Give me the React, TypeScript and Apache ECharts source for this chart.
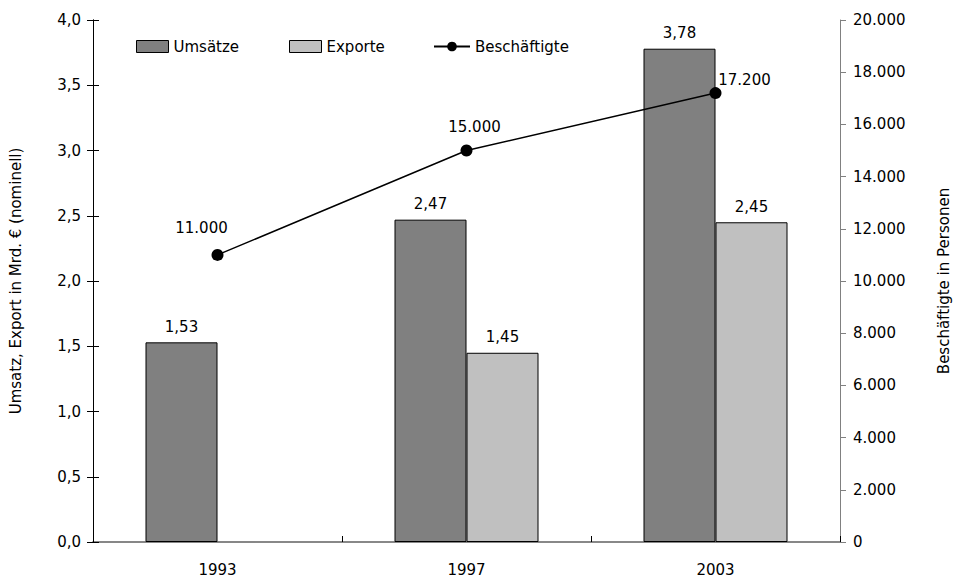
import React, { useEffect, useRef } from "react";
import * as echarts from "echarts";

const categories = ["1993", "1997", "2003"];
const umsaetze = [1.53, 2.47, 3.78];
const exporte: (number | null)[] = [null, 1.45, 2.45];
const beschaeftigte = [11000, 15000, 17200];

const FONT = "DejaVu Sans";
const FS = 15;

const fmtDec = (v: number, d: number) => v.toFixed(d).replace(".", ",");
const fmtThousand = (v: number) =>
  Math.round(v).toString().replace(/\B(?=(\d{3})+(?!\d))/g, ".");

const lineLabelOffsets: [number, number][] = [
  [-16, -5],
  [8, -2],
  [29, 8],
];

export default function App() {
  const ref = useRef<HTMLDivElement>(null);
  useEffect(() => {
    if (!ref.current) return;
    const chart = echarts.init(ref.current, undefined, { renderer: "svg" });
    const text = { fontFamily: FONT, fontSize: FS, color: "#000" };
    const legendBase = {
      top: 34,
      itemHeight: 12,
      itemGap: 0,
      textStyle: { ...text },
    };
    chart.setOption({
      animation: false,
      textStyle: { fontFamily: FONT },
      grid: { left: 90, right: 116, top: 20, bottom: 38 },
      legend: [
        {
          ...legendBase,
          left: 131,
          itemWidth: 32,
          icon: "rect",
          data: [{ name: "Umsätze", itemStyle: { color: "#808080", borderColor: "#000", borderWidth: 1 } }],
        },
        {
          ...legendBase,
          left: 284,
          itemWidth: 32,
          icon: "rect",
          data: [{ name: "Exporte", itemStyle: { color: "#c0c0c0", borderColor: "#000", borderWidth: 1 } }],
        },
        {
          ...legendBase,
          left: 428,
          itemWidth: 36,
          data: [{ name: "Beschäftigte" }],
        },
      ],
      xAxis: [
        {
          type: "category",
          data: categories,
          boundaryGap: true,
          axisLine: { lineStyle: { color: "#808080", width: 1.5 } },
          axisTick: { alignWithLabel: false, length: 6, lineStyle: { color: "#000" } },
          axisLabel: { ...text, margin: 20 },
        },
        {
          type: "category",
          data: categories,
          position: "bottom",
          boundaryGap: true,
          axisLine: { show: true, lineStyle: { color: "#808080", width: 1.5 } },
          axisTick: { show: true, inside: true, length: 6, lineStyle: { color: "#000" } },
          axisLabel: { show: false },
        },
      ],
      yAxis: [
        {
          type: "value",
          min: 0,
          max: 4,
          interval: 0.5,
          position: "left",
          name: "Umsatz, Export in Mrd. € (nominell)",
          nameLocation: "middle",
          nameRotate: 90,
          nameGap: 70,
          nameTextStyle: { ...text },
          axisLine: { show: true, lineStyle: { color: "#000" } },
          axisTick: { show: true, length: 6, lineStyle: { color: "#000" } },
          axisLabel: { ...text, margin: 12, formatter: (v: number) => fmtDec(v, 1) },
          splitLine: { show: false },
        },
        {
          type: "value",
          min: 0,
          max: 20000,
          interval: 2000,
          position: "right",
          name: "Beschäftigte in Personen",
          nameLocation: "middle",
          nameRotate: 90,
          nameGap: 96,
          nameTextStyle: { ...text },
          axisLine: { show: true, lineStyle: { color: "#808080" } },
          axisTick: { show: true, length: 6, lineStyle: { color: "#808080" } },
          axisLabel: { ...text, margin: 13, formatter: (v: number) => fmtThousand(v) },
          splitLine: { show: false },
        },
        {
          type: "value",
          min: 0,
          max: 4,
          interval: 0.5,
          position: "left",
          axisLine: { show: true, lineStyle: { color: "#000" } },
          axisTick: { show: true, inside: true, length: 6, lineStyle: { color: "#000" } },
          axisLabel: { show: false },
          splitLine: { show: false },
        },
      ],
      series: [
        {
          name: "Umsätze",
          type: "bar",
          yAxisIndex: 0,
          data: umsaetze,
          barGap: "0%",
          barWidth: 72,
          itemStyle: { color: "#808080", borderColor: "#000", borderWidth: 1 },
          label: {
            show: true,
            position: "top",
            distance: 8,
            ...text,
            formatter: (p: any) => fmtDec(p.value, 2),
          },
        },
        {
          name: "Exporte",
          type: "bar",
          yAxisIndex: 0,
          data: exporte,
          barWidth: 72,
          itemStyle: { color: "#c0c0c0", borderColor: "#000", borderWidth: 1 },
          label: {
            show: true,
            position: "top",
            distance: 8,
            ...text,
            formatter: (p: any) => fmtDec(p.value, 2),
          },
        },
        {
          name: "Beschäftigte",
          type: "line",
          yAxisIndex: 1,
          data: beschaeftigte.map((v, i) => ({
            value: v,
            label: { offset: lineLabelOffsets[i] },
          })),
          symbol: "circle",
          symbolSize: 12,
          lineStyle: { color: "#000", width: 1.5 },
          itemStyle: { color: "#000" },
          label: {
            show: true,
            position: "top",
            distance: 8,
            ...text,
            formatter: (p: any) => fmtThousand(p.value),
          },
        },
      ],
    });
    return () => chart.dispose();
  }, []);
  return <div ref={ref} style={{ width: 959, height: 580, position: "absolute", left: 0, top: 0 }} />;
}
